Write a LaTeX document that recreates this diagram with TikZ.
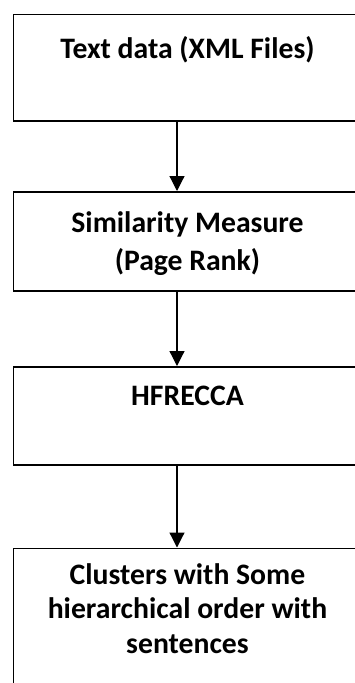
\documentclass[tikz,border=0pt]{standalone}
\usepackage{fontspec}
\setmainfont{Carlito}
\usetikzlibrary{arrows.meta}
\begin{document}
\begin{tikzpicture}[x=1pt,y=-1pt,
  box/.style={draw=black,line width=1.5pt,minimum width=350pt,inner sep=0pt,anchor=north west},
  label/.style={font=\bfseries\fontsize{29.7}{36}\selectfont,align=center,inner sep=0pt,anchor=base},
  flow/.style={draw=black,line width=1.2pt,-{Triangle[width=15pt,length=15pt]}}]
\useasboundingbox (0,0) rectangle (355,683);
\clip (0,0) rectangle (355,683);
\node[box,minimum height=106.5pt] (b1) at (12.5,13.5) {};
\node[box,minimum height=99pt] (b2) at (12.5,191) {};
\node[box,minimum height=98pt] (b3) at (12.5,366) {};
\node[box,minimum height=200pt] (b4) at (12.5,547.5) {};
\coordinate (ax) at (177,0);
\node[label] (t1) at (187.5,58) {Text data (XML Files)};
\node[label,font=\bfseries\fontsize{29.7}{38}\selectfont] (t2) at (187.5,270) {Similarity Measure\\(Page Rank)};
\node[label] (t3) at (187.5,405) {HFRECCA};
\node[label,font=\bfseries\fontsize{29.7}{34.5}\selectfont] (t4) at (187.5,653) {Clusters with Some\\hierarchical order with\\sentences};
\draw[flow] (b1.south -| ax) -- (b2.north -| ax);
\draw[flow] (b2.south -| ax) -- (b3.north -| ax);
\draw[flow] (b3.south -| ax) -- (b4.north -| ax);
\end{tikzpicture}
\end{document}
